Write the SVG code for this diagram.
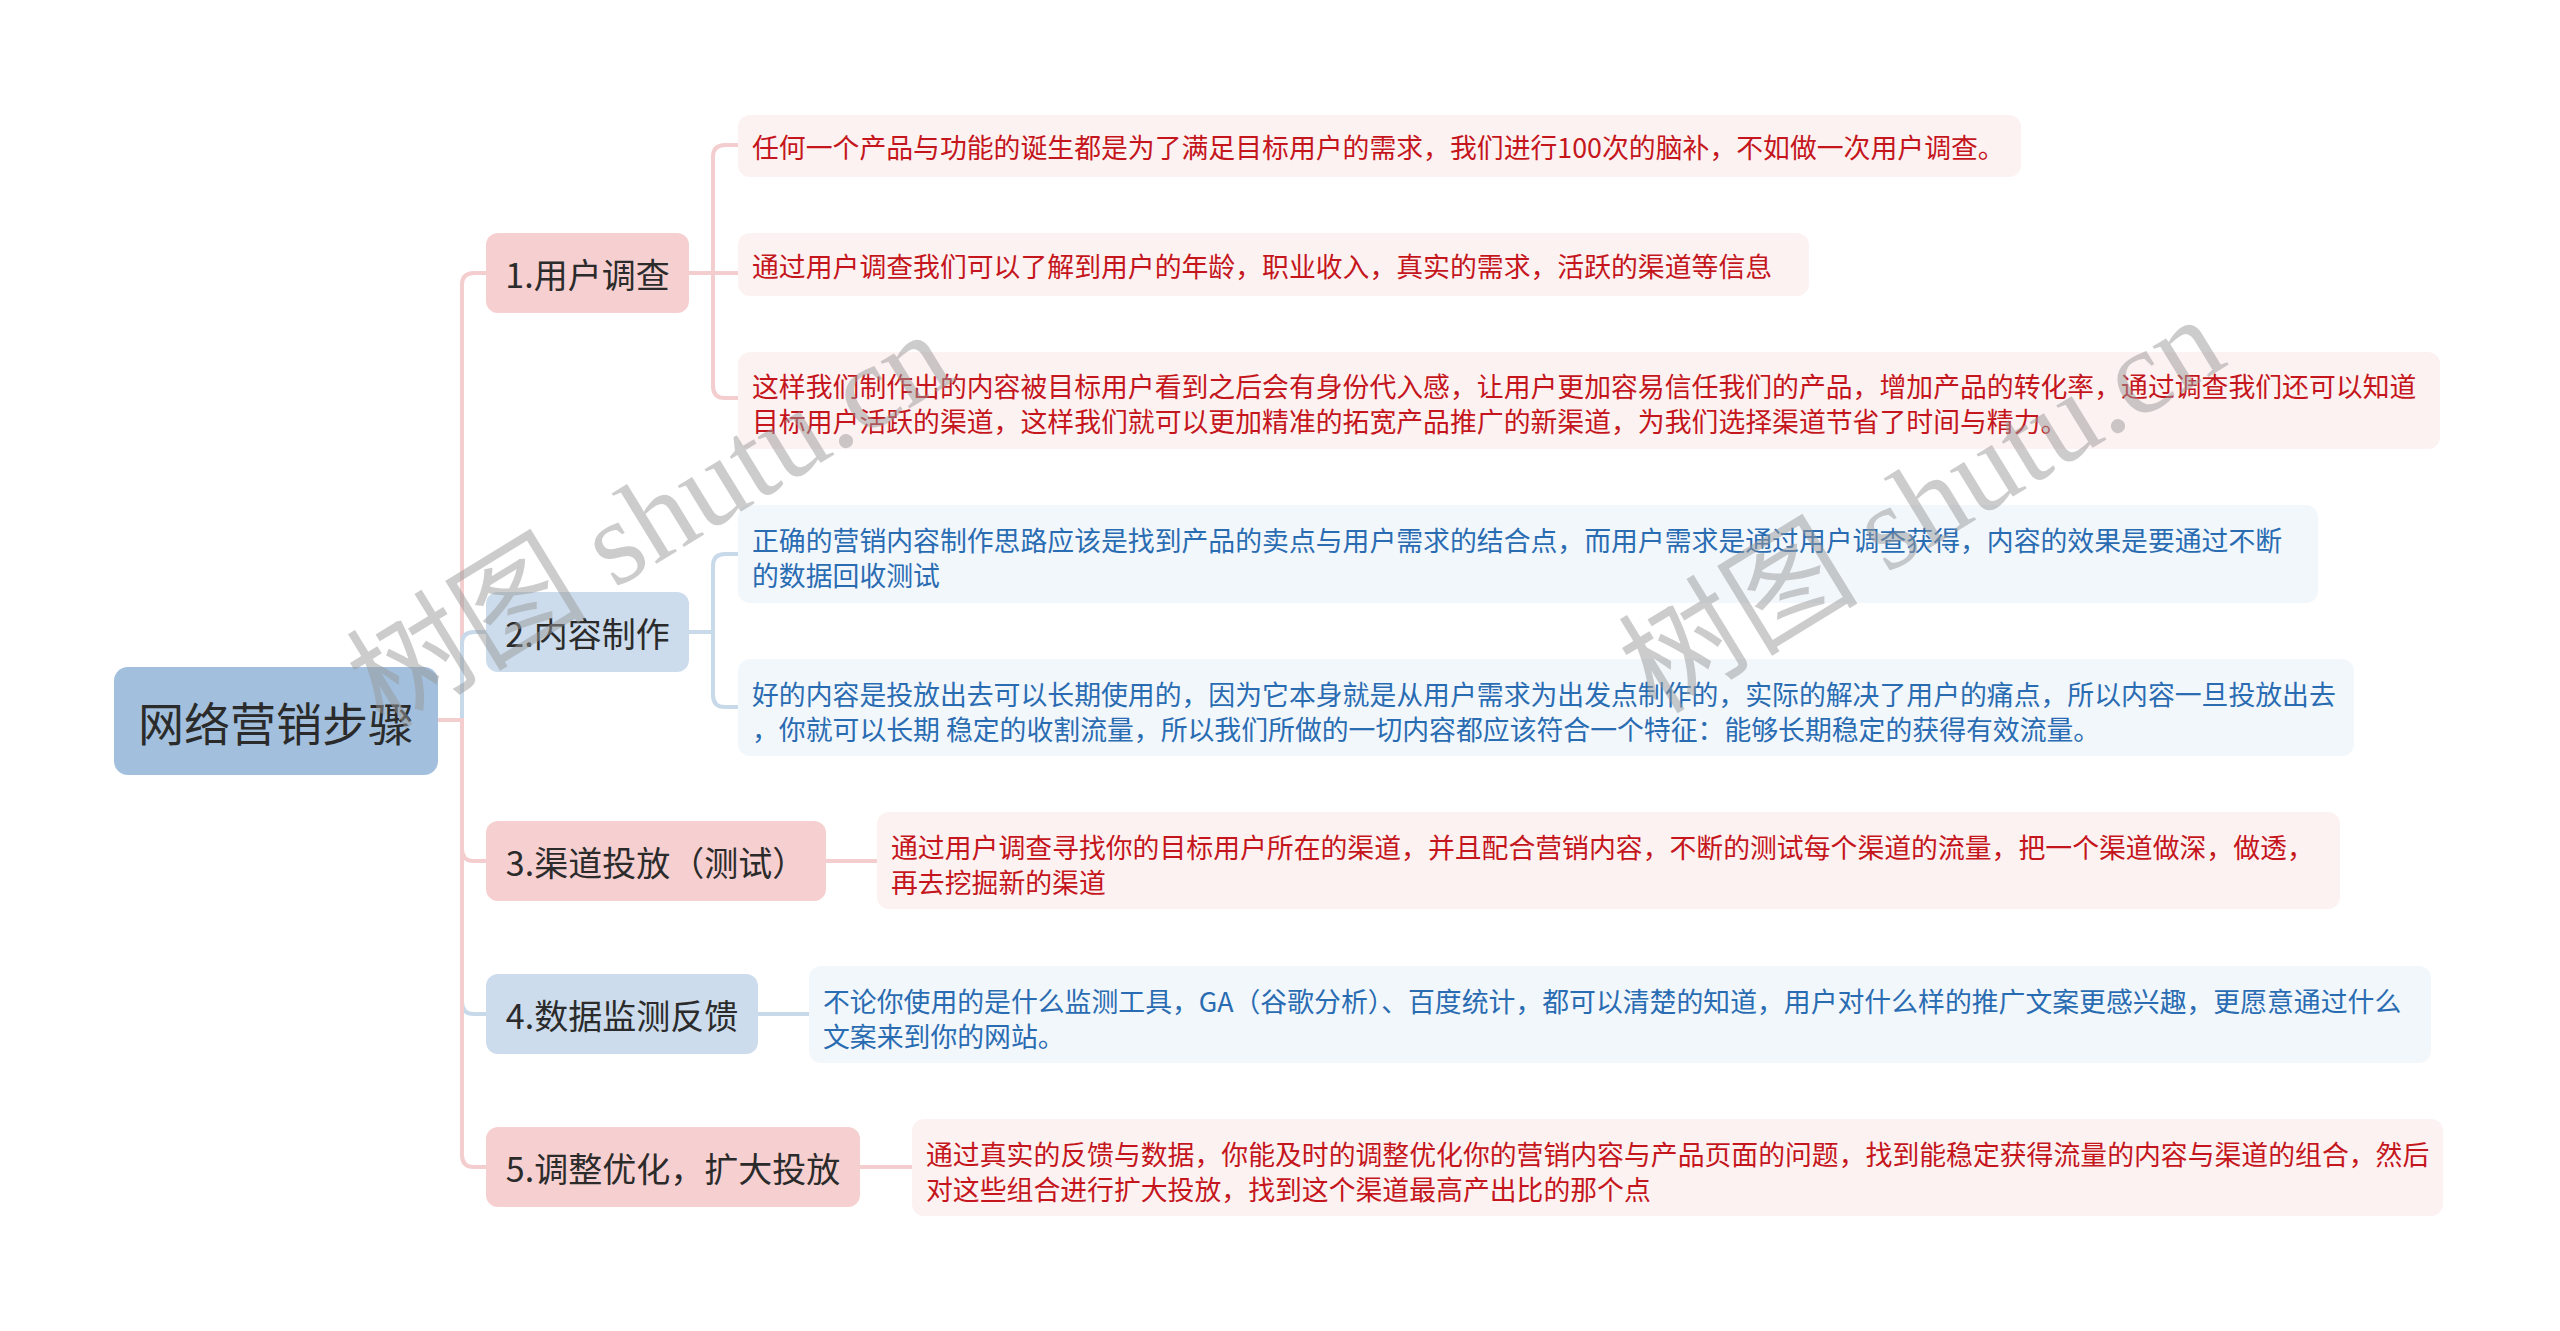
<svg xmlns="http://www.w3.org/2000/svg" width="2560" height="1331" viewBox="0 0 2560 1331">
<style>
  .bg { fill: #ffffff; }
  .root { fill: #a2c0dd; }
  .l1p { fill: #f6cfd0; }
  .l1b { fill: #ccdcec; }
  .lfp { fill: #fdf2f2; }
  .lfb { fill: #f2f7fc; }
  .t-root { font-family: "Noto Sans CJK SC", "Microsoft YaHei", sans-serif; font-size: 46px; fill: #2b2b2b; }
  .t-l1 { font-family: "Noto Sans CJK SC", "Microsoft YaHei", sans-serif; font-size: 34px; fill: #2b2b2b; }
  .t-red { font-family: "Noto Sans CJK SC", "Microsoft YaHei", sans-serif; font-size: 26.85px; fill: #c4161c; }
  .t-blue { font-family: "Noto Sans CJK SC", "Microsoft YaHei", sans-serif; font-size: 26.85px; fill: #2a6cb2; }
  .cp { fill: none; stroke: #f4cdcf; stroke-width: 4; }
  .cb { fill: none; stroke: #c8d9ea; stroke-width: 4; }
  .wm { font-family: "Liberation Serif", "Noto Sans CJK SC", serif; font-size: 120px; fill: #9a9a9a; opacity: 0.5; }
</style>
<rect class="bg" x="0" y="0" width="2560" height="1331"/>

<g id="connectors">
  <path class="cp" d="M438,720 H462 V285 Q462,273 474,273 H486"/>
  <path class="cb" d="M438,720 H462 V644 Q462,632 474,632 H486"/>
  <path class="cp" d="M438,720 H462 V849 Q462,861 474,861 H486"/>
  <path class="cb" d="M438,720 H462 V1002 Q462,1014 474,1014 H486"/>
  <path class="cp" d="M438,720 H462 V1155 Q462,1167 474,1167 H486"/>
  <path class="cp" d="M689,273 H738"/>
  <path class="cp" d="M713,273 V157 Q713,145 725,145 H738"/>
  <path class="cp" d="M713,273 V386 Q713,398 725,398 H738"/>
  <path class="cb" d="M689,632 H713"/>
  <path class="cb" d="M713,632 V566 Q713,554 725,554 H738"/>
  <path class="cb" d="M713,632 V695 Q713,707 725,707 H738"/>
  <path class="cp" d="M826,861 H877"/>
  <path class="cb" d="M758,1014 H809"/>
  <path class="cp" d="M860,1167 H912"/>
</g>

<g id="root">
  <rect class="root" x="114" y="667" width="324" height="108" rx="14"/>
  <text class="t-root" x="276" y="721" text-anchor="middle" dominant-baseline="central">网络营销步骤</text>
</g>

<g id="n1">
  <rect class="l1p" x="486" y="233" width="203" height="80" rx="12"/>
  <text class="t-l1" x="587.5" y="273" text-anchor="middle" dominant-baseline="central">1.用户调查</text>
</g>
<g id="n2">
  <rect class="l1b" x="486" y="592" width="203" height="80" rx="12"/>
  <text class="t-l1" x="587.5" y="632" text-anchor="middle" dominant-baseline="central">2.内容制作</text>
</g>
<g id="n3">
  <rect class="l1p" x="486" y="821" width="340" height="80" rx="12"/>
  <text class="t-l1" x="656" y="861" text-anchor="middle" dominant-baseline="central">3.渠道投放（测试）</text>
</g>
<g id="n4">
  <rect class="l1b" x="486" y="974" width="272" height="80" rx="12"/>
  <text class="t-l1" x="622" y="1014" text-anchor="middle" dominant-baseline="central">4.数据监测反馈</text>
</g>
<g id="n5">
  <rect class="l1p" x="486" y="1127" width="374" height="80" rx="12"/>
  <text class="t-l1" x="673" y="1167" text-anchor="middle" dominant-baseline="central">5.调整优化，扩大投放</text>
</g>

<g id="n1a">
  <rect class="lfp" x="738" y="115" width="1283" height="62" rx="12"/>
  <text class="t-red" x="752" y="146" dominant-baseline="central">任何一个产品与功能的诞生都是为了满足目标用户的需求，我们进行100次的脑补，不如做一次用户调查。</text>
</g>
<g id="n1b">
  <rect class="lfp" x="738" y="233" width="1071" height="63" rx="12"/>
  <text class="t-red" x="752" y="265" dominant-baseline="central">通过用户调查我们可以了解到用户的年龄，职业收入，真实的需求，活跃的渠道等信息</text>
</g>
<g id="n1c">
  <rect class="lfp" x="738" y="352" width="1702" height="97" rx="12"/>
  <text class="t-red" x="752" y="385" dominant-baseline="central">这样我们制作出的内容被目标用户看到之后会有身份代入感，让用户更加容易信任我们的产品，增加产品的转化率，通过调查我们还可以知道</text>
  <text class="t-red" x="752" y="420" dominant-baseline="central">目标用户活跃的渠道，这样我们就可以更加精准的拓宽产品推广的新渠道，为我们选择渠道节省了时间与精力。</text>
</g>
<g id="n2a">
  <rect class="lfb" x="738" y="505" width="1580" height="98" rx="12"/>
  <text class="t-blue" x="752" y="539" dominant-baseline="central">正确的营销内容制作思路应该是找到产品的卖点与用户需求的结合点，而用户需求是通过用户调查获得，内容的效果是要通过不断</text>
  <text class="t-blue" x="752" y="574" dominant-baseline="central">的数据回收测试</text>
</g>
<g id="n2b">
  <rect class="lfb" x="738" y="659" width="1616" height="97" rx="12"/>
  <text class="t-blue" x="752" y="693" dominant-baseline="central">好的内容是投放出去可以长期使用的，因为它本身就是从用户需求为出发点制作的，实际的解决了用户的痛点，所以内容一旦投放出去</text>
  <text class="t-blue" x="752" y="728" dominant-baseline="central">，你就可以长期 稳定的收割流量，所以我们所做的一切内容都应该符合一个特征：能够长期稳定的获得有效流量。</text>
</g>
<g id="n3a">
  <rect class="lfp" x="877" y="812" width="1463" height="97" rx="12"/>
  <text class="t-red" x="891" y="846" dominant-baseline="central">通过用户调查寻找你的目标用户所在的渠道，并且配合营销内容，不断的测试每个渠道的流量，把一个渠道做深，做透，</text>
  <text class="t-red" x="891" y="881" dominant-baseline="central">再去挖掘新的渠道</text>
</g>
<g id="n4a">
  <rect class="lfb" x="809" y="966" width="1622" height="97" rx="12"/>
  <text class="t-blue" x="823" y="1000" dominant-baseline="central">不论你使用的是什么监测工具，GA（谷歌分析）、百度统计，都可以清楚的知道，用户对什么样的推广文案更感兴趣，更愿意通过什么</text>
  <text class="t-blue" x="823" y="1035" dominant-baseline="central">文案来到你的网站。</text>
</g>
<g id="n5a">
  <rect class="lfp" x="912" y="1119" width="1531" height="97" rx="12"/>
  <text class="t-red" x="926" y="1153" dominant-baseline="central">通过真实的反馈与数据，你能及时的调整优化你的营销内容与产品页面的问题，找到能稳定获得流量的内容与渠道的组合，然后</text>
  <text class="t-red" x="926" y="1188" dominant-baseline="central">对这些组合进行扩大投放，找到这个渠道最高产出比的那个点</text>
</g>

<g id="watermarks">
  <text class="wm" x="650" y="520" text-anchor="middle" dominant-baseline="central" transform="rotate(-31.5 650 520)">树图 shutu.cn</text>
  <text class="wm" x="1922" y="505" text-anchor="middle" dominant-baseline="central" transform="rotate(-31.5 1922 505)">树图 shutu.cn</text>
</g>
</svg>
